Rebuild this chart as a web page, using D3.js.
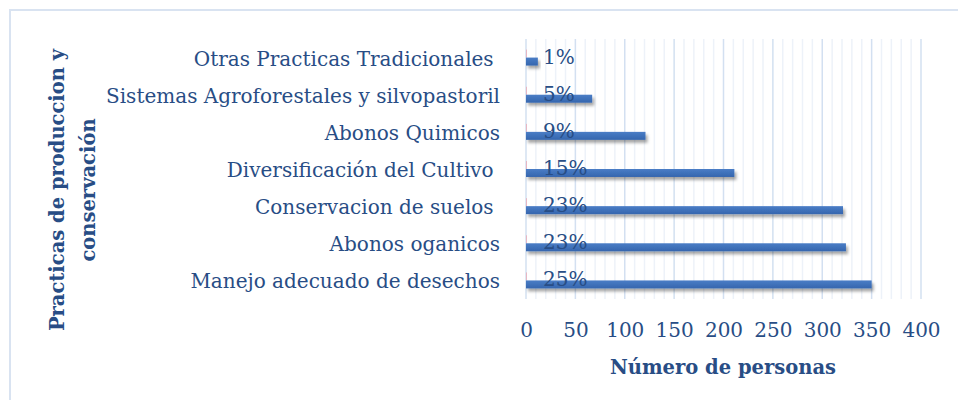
<!DOCTYPE html>
<html>
<head>
<meta charset="utf-8">
<script src="https://cdn.jsdelivr.net/npm/d3@7"></script>
<style>
  html, body { margin: 0; padding: 0; background: #fff; }
  svg { display: block; }
</style>
</head>
<body>
<svg id="chart" width="958" height="400"></svg>
<script>
// Prácticas de producción y conservación: número de personas y porcentaje
const categories = [
  "Otras Practicas Tradicionales ",
  "Sistemas Agroforestales y silvopastoril",
  "Abonos Quimicos",
  "Diversificación del Cultivo ",
  "Conservacion de suelos ",
  "Abonos oganicos",
  "Manejo adecuado de desechos"
];
const personas = [12, 67, 121, 211, 321, 324, 350];
const porcentajes = [0.01, 0.05, 0.09, 0.15, 0.23, 0.23, 0.25];
const xTicks = [0, 50, 100, 150, 200, 250, 300, 350, 400];
const xTitle = "Número de personas";
const yTitleLines = ["Practicas de produccion y", "conservación"];

const W = 958, H = 400;
const textColor = "#284d85";
const font = "'DejaVu Serif', serif";

const svg = d3.select("#chart");

// drop shadow for the bars
const defs = svg.append("defs");
const f = defs.append("filter").attr("id", "shadow")
  .attr("x", "-10%").attr("y", "-50%").attr("width", "130%").attr("height", "250%");
f.append("feDropShadow").attr("dx", 2).attr("dy", 3).attr("stdDeviation", 1.8)
  .attr("flood-color", "#000").attr("flood-opacity", 0.35);
const grad = defs.append("linearGradient").attr("id", "barGrad")
  .attr("x1", 0).attr("y1", 0).attr("x2", 0).attr("y2", 1);
grad.append("stop").attr("offset", "0%").attr("stop-color", "#4a7dc6");
grad.append("stop").attr("offset", "100%").attr("stop-color", "#3566ae");

// chart frame
svg.append("path")
  .attr("d", `M10,${H} L10,10 L${W},10`)
  .attr("fill", "none").attr("stroke", "#d9e3f1").attr("stroke-width", 2);

const x = d3.scaleLinear().domain([0, 400]).range([526, 921]);
const y = d3.scaleBand().domain(categories).range([39, 299]).padding(0);

// gridlines: minor every 10, major every 50
const minor = d3.range(10, 401, 10).filter(v => v % 50 !== 0);
svg.append("g").selectAll("line").data(minor).join("line")
  .attr("x1", d => x(d)).attr("x2", d => x(d))
  .attr("y1", 39).attr("y2", 299)
  .attr("stroke", "#edf2f9").attr("stroke-width", 1.5);
svg.append("g").selectAll("line").data(xTicks).join("line")
  .attr("x1", d => x(d)).attr("x2", d => x(d))
  .attr("y1", 39).attr("y2", 299)
  .attr("stroke", "#d3e0f1").attr("stroke-width", 1.5);

const bh = y.bandwidth() * 0.215;
const rows = categories.map((c, i) => ({ c, n: personas[i], p: porcentajes[i] }));

// percentage series (tiny values, drawn near the axis)
svg.append("g").selectAll("rect").data(rows).join("rect")
  .attr("x", x(0)).attr("y", d => y(d.c) + y.bandwidth() / 2 - bh)
  .attr("width", d => Math.max(1, x(d.p) - x(0)))
  .attr("height", bh)
  .attr("fill", "#e7b7c3");

// count series
svg.append("g").selectAll("rect").data(rows).join("rect")
  .attr("x", x(0)).attr("y", d => y(d.c) + y.bandwidth() / 2)
  .attr("width", d => x(d.n) - x(0))
  .attr("height", bh)
  .attr("fill", "url(#barGrad)")
  .attr("filter", "url(#shadow)");

// percentage labels
svg.append("g").selectAll("text").data(rows).join("text")
  .attr("x", x(0) + 17).attr("y", d => y(d.c) + y.bandwidth() / 2 + 6)
  .attr("font-family", font).attr("font-size", 20).attr("fill", textColor)
  .text(d => d3.format(".0%")(d.p));

// category axis labels
svg.append("g").selectAll("text").data(categories).join("text")
  .attr("x", 500).attr("y", d => y(d) + y.bandwidth() / 2 + 8)
  .attr("text-anchor", "end")
  .attr("font-family", font).attr("font-size", 20).attr("fill", textColor)
  .attr("xml:space", "preserve")
  .text(d => d);

// value axis
const xAxis = svg.append("g").attr("transform", "translate(0,299)")
  .call(d3.axisBottom(x).tickValues(xTicks).tickSize(0).tickPadding(24));
xAxis.select(".domain").remove();
xAxis.selectAll("text")
  .attr("font-family", font).attr("font-size", 20).attr("fill", textColor);

// axis titles
svg.append("text").attr("x", 723).attr("y", 374).attr("text-anchor", "middle")
  .attr("font-family", font).attr("font-weight", "bold").attr("font-size", 19.5)
  .attr("fill", textColor).text(xTitle);

const yt = svg.append("text").attr("transform", "translate(0,190) rotate(-90)")
  .attr("text-anchor", "middle")
  .attr("font-family", font).attr("font-weight", "bold").attr("font-size", 19.5)
  .attr("fill", textColor);
yTitleLines.forEach((t, i) => {
  yt.append("tspan").attr("x", 0).attr("y", 64 + i * 31).text(t);
});
</script>
</body>
</html>
